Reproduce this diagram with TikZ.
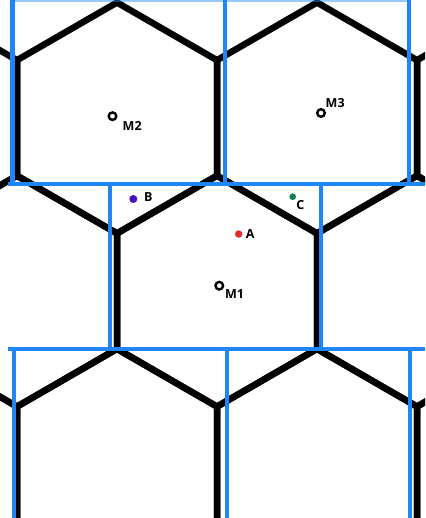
\documentclass[tikz,border=0pt]{standalone}
\usepackage{fontspec}
\setsansfont{Open Sans}
\usepackage{tikz}
\usetikzlibrary{positioning}
\definecolor{cellblue}{HTML}{1E86F8}
\definecolor{ptred}{HTML}{E8262B}
\definecolor{ptpurple}{HTML}{4C10C4}
\definecolor{ptgreen}{HTML}{0C8452}

\begin{document}
\begin{tikzpicture}[
  x=1pt,y=-1pt,
  every node/.style={font=\sffamily\bfseries\fontsize{12.5}{14}\selectfont,inner sep=0pt},
  hexline/.style={line width=6.5pt,black},
  cellline/.style={line width=4.4pt,cellblue},
  centre/.style={circle,draw=black,line width=2.4pt,fill=white,minimum size=7.6pt},
  dotpt/.style={circle,minimum size=7.4pt}
]
\useasboundingbox (0,0) rectangle (425,518);
\clip (0,0) rectangle (425,518);
\fill[white] (0,0) rectangle (425,518);
\foreach \cx/\cy in {-83/118,117/118,317/118,517/118,17/291.2,217/291.2,417/291.2,
                     -83/464.4,117/464.4,317/464.4,517/464.4}
  \draw[hexline] (\cx,\cy-115.5) -- ++(100,57.7) -- ++(0,115.5) -- ++(-100,57.7)
    -- ++(-100,-57.7) -- ++(0,-115.5) -- cycle;
\draw[cellline,opacity=0.45] (13,0) -- (410,0);
\draw[cellline] (12.5,0) -- (12.5,184);
\draw[cellline] (225,0) -- (225,184);
\draw[cellline] (409,0) -- (409,184);
\draw[cellline] (8,184) -- (425,184);
\draw[cellline] (110,184) -- (110,349);
\draw[cellline] (321,184) -- (321,349);
\draw[cellline] (8,349) -- (425,349);
\draw[cellline] (14,349) -- (14,518);
\draw[cellline] (227,349) -- (227,518);
\draw[cellline] (410,349) -- (410,518);
\node[centre] (m2) at (112.5,116.2) {};
\node[centre] (m3) at (321,113) {};
\node[centre] (m1) at (219.3,285.7) {};
\node[dotpt,fill=ptred] (ptA) at (238.7,234) {};
\node[dotpt,fill=ptpurple,minimum size=8pt] (ptB) at (133.3,199) {};
\node[dotpt,fill=ptgreen,minimum size=6.7pt] (ptC) at (292.7,196.7) {};
\node[below right=1.5pt and 6.5pt of m2] (m2lbl) {M2};
\node[above right=2pt and 1pt of m3] (m3lbl) {M3};
\node[below right=0.5pt and 2pt of m1] (m1lbl) {M1};
\node[right=3pt of ptA] (albl) {A};
\node[right=6.5pt of ptB,yshift=1.5pt] (blbl) {B};
\node[below right=1pt and 1pt of ptC] (clbl) {C};
\end{tikzpicture}
\end{document}
